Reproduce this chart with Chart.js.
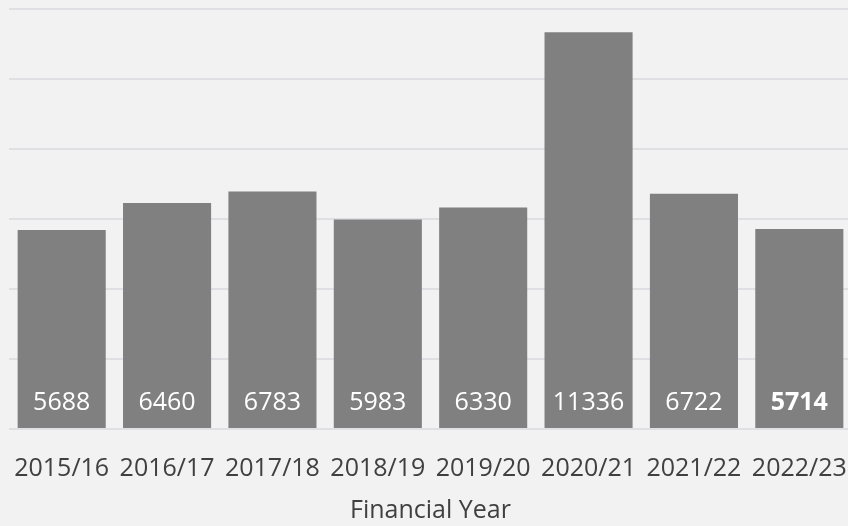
<!DOCTYPE html>
<html>
<head>
<meta charset="utf-8">
<script src="https://cdn.jsdelivr.net/npm/chart.js@4/dist/chart.umd.min.js"></script>
<style>
html,body{margin:0;padding:0;background:#f2f2f2;overflow:hidden;}
#wrap{width:852px;height:526px;}
</style>
</head>
<body>
<div id="wrap"><canvas id="c" width="852" height="526"></canvas></div>
<script>
const categories = ["2015/16","2016/17","2017/18","2018/19","2019/20","2020/21","2021/22","2022/23"];
const values = [5688, 6460, 6783, 5983, 6330, 11336, 6722, 5714];
const xTitle = "Financial Year";
const yMax = 12000;
const yStep = 2000;

const labelPlugin = {
  id: 'barLabels',
  afterDatasetsDraw(chart) {
    const ctx = chart.ctx;
    const meta = chart.getDatasetMeta(0);
    const base = chart.scales.y.getPixelForValue(0);
    ctx.save();
    ctx.fillStyle = '#ffffff';
    ctx.textAlign = 'center';
    ctx.textBaseline = 'middle';
    meta.data.forEach((bar, i) => {
      const last = i === meta.data.length - 1;
      ctx.font = (last ? 'bold ' : '') + '25px "Open Sans"';
      ctx.fillText(String(values[i]), bar.x, base - 26);
    });
    ctx.restore();
  }
};

new Chart(document.getElementById('c'), {
  type: 'bar',
  data: {
    labels: categories,
    datasets: [{
      data: values,
      backgroundColor: '#808080',
      borderWidth: 0,
      categoryPercentage: 1,
      barPercentage: 0.836
    }]
  },
  options: {
    responsive: false,
    animation: false,
    layout: { padding: { top: 9, left: 9, right: 0, bottom: 0 } },
    plugins: { legend: { display: false }, tooltip: { enabled: false } },
    scales: {
      x: {
        grid: { display: false, drawTicks: false },
        border: { display: false },
        ticks: { color: '#404040', font: { family: 'Open Sans', size: 25 }, padding: 25, maxRotation: 0, autoSkip: false },
        title: { display: true, text: xTitle, color: '#404040', font: { family: 'Open Sans', size: 25 }, padding: { top: 0, bottom: 0 } },
        afterFit(scale) { scale.height = 97; scale.paddingLeft = 0; scale.paddingRight = 0; }
      },
      y: {
        min: 0, max: yMax,
        ticks: { display: false, stepSize: yStep },
        grid: { color: '#e0dfe4', lineWidth: 2, drawTicks: false },
        border: { display: false },
        afterFit(scale) { scale.width = 0; }
      }
    }
  },
  plugins: [labelPlugin]
});
</script>
</body>
</html>
